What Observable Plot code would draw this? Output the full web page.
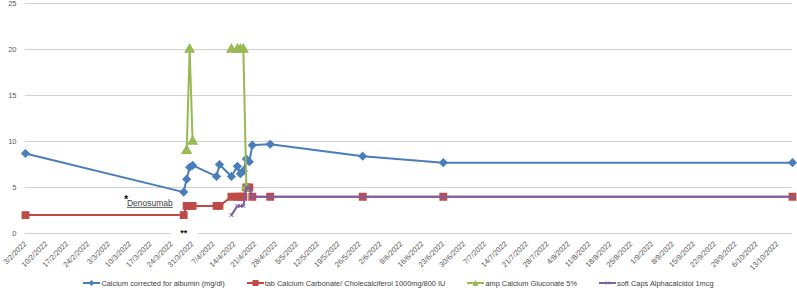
<!DOCTYPE html>
<html><head><meta charset="utf-8">
<script src="https://cdn.jsdelivr.net/npm/d3@7"></script>
<script src="https://cdn.jsdelivr.net/npm/@observablehq/plot@0.6"></script>
<style>
body{margin:0;background:#fff;}
#chart{height:270px;}
#legend{display:flex;justify-content:center;gap:22px;font-family:"Liberation Sans",sans-serif;font-size:7.4px;color:#404040;height:26px;align-items:center;margin-top:0px;}
.item{display:flex;align-items:center;gap:1px;white-space:nowrap;}
</style></head><body><div id="chart"></div><div id="legend"></div>
<script>
const parse = s => { const [d,m,y] = s.split("/").map(Number); return new Date(Date.UTC(y, m-1, d)); };

// x tick labels (weekly)
const tickLabels = ["3/2/2022","10/2/2022","17/2/2022","24/2/2022","3/3/2022","10/3/2022","17/3/2022","24/3/2022","31/3/2022","7/4/2022","14/4/2022","21/4/2022","28/4/2022","5/5/2022","12/5/2022","19/5/2022","26/5/2022","2/6/2022","9/6/2022","16/6/2022","23/6/2022","30/6/2022","7/7/2022","14/7/2022","21/7/2022","28/7/2022","4/8/2022","11/8/2022","18/8/2022","25/8/2022","1/9/2022","8/9/2022","15/9/2022","22/9/2022","29/9/2022","6/10/2022","13/10/2022"];
const yTicks = [0,5,10,15,20,25];

// Series
const calciumDates = ["3/2/2022","28/3/2022","29/3/2022","30/3/2022","31/3/2022","8/4/2022","9/4/2022","13/4/2022","15/4/2022","16/4/2022","17/4/2022","18/4/2022","19/4/2022","20/4/2022","26/4/2022","27/5/2022","23/6/2022","18/10/2022"];
const calciumValues = [8.7,4.5,5.9,7.2,7.4,6.2,7.5,6.2,7.3,6.5,6.8,8.1,7.8,9.6,9.7,8.4,7.7,7.7];

const carbonateDates = ["3/2/2022","28/3/2022","29/3/2022","30/3/2022","31/3/2022","8/4/2022","9/4/2022","13/4/2022","15/4/2022","16/4/2022","17/4/2022","18/4/2022","19/4/2022","20/4/2022","26/4/2022","27/5/2022","23/6/2022","18/10/2022"];
const carbonateValues = [2,2,3,3,3,3,3,4,4,4,4,5,5,4,4,4,4,4];

const gluconateDates = ["29/3/2022","30/3/2022","31/3/2022","8/4/2022","13/4/2022","15/4/2022","16/4/2022","17/4/2022","18/4/2022"];
const gluconateValues = [9,20,10,null,20,20,20,20,5];

const alfaDates = ["13/4/2022","15/4/2022","16/4/2022","17/4/2022","18/4/2022","19/4/2022","20/4/2022","26/4/2022","27/5/2022","23/6/2022","18/10/2022"];
const alfaValues = [2,3,3,3,5,5,4,4,4,4,4];

const seriesNames = ["Calcium corrected for albumin (mg/dl)","tab Calcium Carbonate/ Cholecalciferol 1000mg/800 IU","amp Calcium Gluconate 5%","soft Caps Alphacalcidol 1mcg"];
const colors = ["#4A7EBB","#BE4B48","#98B954","#7D60A0"];

// annotations (data space)
const annoStar = {date:"8/3/2022", value:3.7, text:"*"};
const annoDeno = {date:"9/3/2022", value:3.3, text:"Denosumab"};
const annoDouble = {date:"28/3/2022", value:0, text:"**"};
const annoMask = {from:"24/3/2022", to:"2/4/2022"};

const toRows = (dates, values) => dates.map((d,i) => ({date: parse(d), value: values[i]}));
const calcium = toRows(calciumDates, calciumValues);
const carbonate = toRows(carbonateDates, carbonateValues);
const gluconate = toRows(gluconateDates, gluconateValues);
const alfa = toRows(alfaDates, alfaValues);
const fmt = d => `${d.getUTCDate()}/${d.getUTCMonth()+1}/${d.getUTCFullYear()}`;

const plot = Plot.plot({
  width: 797, height: 270,
  marginTop: 3, marginBottom: 37, marginLeft: 25, marginRight: 5,
  style: {fontFamily: "'Liberation Sans', sans-serif", fontSize: "7.5px", color: "#595959", background: "#fff", overflow: "visible"},
  x: {type: "utc", domain: [parse("3/2/2022"), parse("18/10/2022")]},
  y: {domain: [0, 25]},
  marks: [
    Plot.ruleY(yTicks, {stroke: "#d0d0d0", strokeWidth: 1}),
    Plot.rect([annoMask], {x1: d => parse(d.from), x2: d => parse(d.to), y1: -0.4, y2: 0.4, fill: "white"}),
    Plot.axisY({ticks: yTicks, tickSize: 0, tickPadding: 9, label: null}),
    Plot.axisX({ticks: tickLabels.map(parse), tickFormat: fmt, tickRotate: -45, tickSize: 0, tickPadding: 9, label: null}),
    Plot.line(calcium, {x: "date", y: "value", stroke: colors[0], strokeWidth: 2}),
    Plot.dot(calcium, {x: "date", y: "value", symbol: "diamond2", r: 3.2, fill: colors[0], stroke: colors[0]}),
    Plot.line(carbonate, {x: "date", y: "value", stroke: colors[1], strokeWidth: 2}),
    Plot.dot(carbonate, {x: "date", y: "value", symbol: "square", r: 3.6, fill: colors[1], stroke: colors[1]}),
    Plot.line(gluconate, {x: "date", y: "value", stroke: colors[2], strokeWidth: 2}),
    Plot.dot(gluconate, {x: "date", y: "value", symbol: "triangle", r: 3.2, fill: colors[2], stroke: colors[2]}),
    Plot.line(alfa, {x: "date", y: "value", stroke: colors[3], strokeWidth: 2}),
    Plot.dot(alfa, {x: "date", y: "value", symbol: "times", r: 2, stroke: colors[3], strokeWidth: 1}),
    Plot.text([annoStar], {x: d => parse(d.date), y: "value", text: "text", fontSize: 11, fill: "#111", textAnchor: "start", fontWeight: "bold"}),
    Plot.text([annoDeno], {x: d => parse(d.date), y: "value", text: "text", fontSize: 8.5, fill: "#404040", textAnchor: "start"}),
    Plot.text([annoDouble], {x: d => parse(d.date), y: "value", text: "text", fontSize: 9, fill: "#111", textAnchor: "middle", fontWeight: "bold"})
  ]
});
d3.select(plot).selectAll("text").filter(function(){ return this.textContent === "Denosumab"; }).attr("text-decoration", "underline");
document.getElementById("chart").appendChild(plot);

// Legend
const symbols = ["diamond","square","triangle","times"];
const leg = document.getElementById("legend");
seriesNames.forEach((name, i) => {
  const item = document.createElement("div");
  item.className = "item";
  let mk;
  const c = colors[i];
  if (symbols[i] === "diamond") mk = `<path d="M8.5,1 L11.5,4 L8.5,7 L5.5,4Z" fill="${c}"/>`;
  else if (symbols[i] === "square") mk = `<rect x="5.5" y="1" width="6" height="6" fill="${c}"/>`;
  else if (symbols[i] === "triangle") mk = `<path d="M8.5,1 L11.5,7 L5.5,7Z" fill="${c}"/>`;
  else mk = `<path d="M7,2.5 L10,5.5 M10,2.5 L7,5.5" stroke="${c}" stroke-width="1"/>`;
  item.innerHTML = `<svg width="17" height="8"><line x1="0" x2="17" y1="4" y2="4" stroke="${c}" stroke-width="2"/>${mk}</svg><span>${name}</span>`;
  leg.appendChild(item);
});
</script>
</body></html>
